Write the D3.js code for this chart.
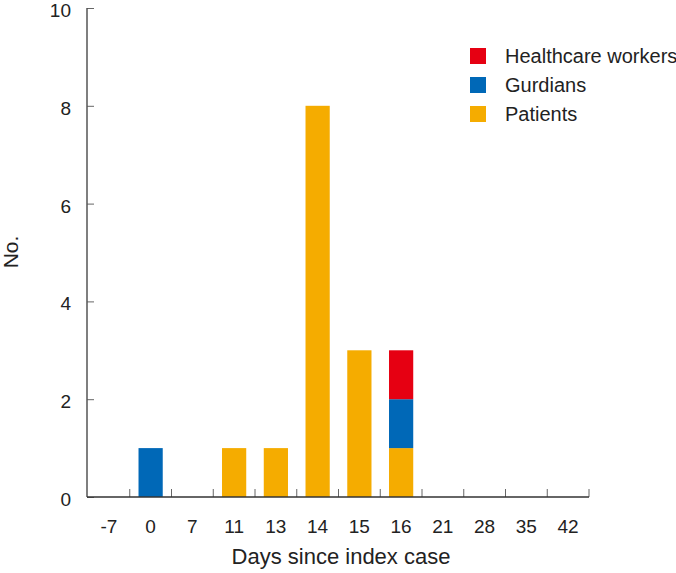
<!DOCTYPE html>
<html><head><meta charset="utf-8">
<script src="https://cdn.jsdelivr.net/npm/d3@7"></script>
<style>body{margin:0;background:#fff;} svg{display:block;font-family:"Liberation Sans",Arial,sans-serif;}</style>
</head><body>
<svg id="c" width="676" height="573"></svg>
<script>
const categories = ["-7","0","7","11","13","14","15","16","21","28","35","42"];
const patients   = [0,0,0,1,1,8,3,1,0,0,0,0];
const guardians  = [0,1,0,0,0,0,0,1,0,0,0,0];
const healthcare = [0,0,0,0,0,0,0,1,0,0,0,0];
const seriesNames = ["Patients","Gurdians","Healthcare workers"];
const seriesColors = ["#F5AC00","#0068B7","#E60012"];
const yTicks = [0,2,4,6,8,10];

const svg = d3.select("#c");
const x = d3.scaleBand().domain(categories).range([88,589]).paddingInner(0.42).paddingOuter(0.21);
const y = d3.scaleLinear().domain([0,10]).range([497,8]);

const rows = categories.map((c,i)=>({cat:c, Patients:patients[i], Gurdians:guardians[i], "Healthcare workers":healthcare[i]}));
const stack = d3.stack().keys(seriesNames)(rows);

svg.append("g").selectAll("g").data(stack).join("g")
  .attr("fill",(d,i)=>seriesColors[i])
  .selectAll("rect").data(d=>d).join("rect")
  .attr("x",d=>x(d.data.cat)).attr("width",x.bandwidth())
  .attr("y",d=>y(d[1])).attr("height",d=>y(d[0])-y(d[1]));

// y axis
const ya = svg.append("g").attr("transform","translate(87,0)")
  .call(d3.axisRight(y).tickValues(yTicks).tickSize(7).tickFormat(""));
ya.select(".domain").remove();
ya.selectAll(".tick line").attr("stroke","#666");
svg.append("line").attr("x1",87).attr("x2",87).attr("y1",y(10)).attr("y2",y(0)).attr("stroke","#555").attr("stroke-width",1.5);
svg.append("g").selectAll("text").data(yTicks).join("text")
  .attr("x",71).attr("y",d=>y(d)+9).attr("text-anchor","end")
  .attr("font-size",19).attr("fill","#222").text(d=>d);

// x axis
const step = x.step();
const bounds = categories.map((c,i)=>88+step*(i+1));
svg.append("g").selectAll("line").data(bounds).join("line")
  .attr("x1",d=>d).attr("x2",d=>d).attr("y1",489).attr("y2",497).attr("stroke","#666");
svg.append("line").attr("x1",87).attr("x2",589).attr("y1",497).attr("y2",497).attr("stroke","#333").attr("stroke-width",1.5);
svg.append("g").selectAll("text").data(categories).join("text")
  .attr("x",d=>x(d)+x.bandwidth()/2).attr("y",533).attr("text-anchor","middle")
  .attr("font-size",19).attr("fill","#222").text(d=>d);

svg.append("text").attr("x",341).attr("y",564).attr("text-anchor","middle")
  .attr("font-size",22).attr("fill","#222").text("Days since index case");
svg.append("text").attr("transform","translate(18,252) rotate(-90)").attr("text-anchor","middle")
  .attr("font-size",21).attr("fill","#222").text("No.");

// legend
const legendItems = seriesNames.map((n,i)=>({n,c:seriesColors[i]})).reverse();
const lg = svg.append("g").selectAll("g").data(legendItems).join("g")
  .attr("transform",(d,i)=>`translate(470,${48+i*29})`);
lg.append("rect").attr("width",16).attr("height",16).attr("fill",d=>d.c);
lg.append("text").attr("x",35).attr("y",15).attr("font-size",20).attr("fill","#222").text(d=>d.n);
</script>
</body></html>
